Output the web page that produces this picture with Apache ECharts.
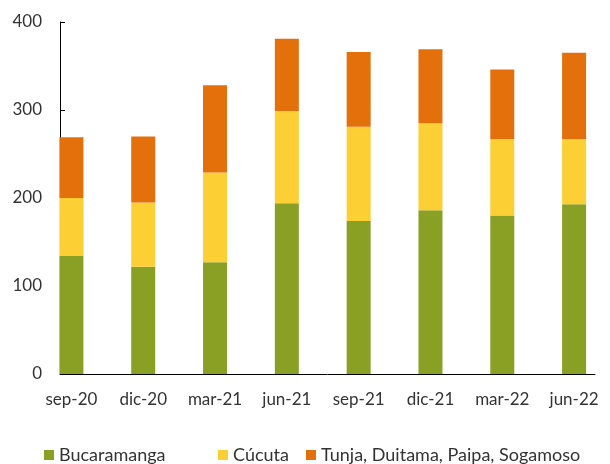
<!DOCTYPE html>
<html>
<head>
<meta charset="utf-8">
<script src="https://cdn.jsdelivr.net/npm/echarts@6/dist/echarts.min.js"></script>
<style>
  html, body { margin: 0; padding: 0; background: #fff; }
  #chart { width: 610px; height: 464px; }
</style>
</head>
<body>
<div id="chart"></div>
<script>
var categories = ["sep-20", "dic-20", "mar-21", "jun-21", "sep-21", "dic-21", "mar-22", "jun-22"];
var bucaramanga = [134, 122, 127, 194, 174, 186, 180, 193];
var cucuta = [66, 73, 102, 105, 107, 99, 87, 74];
var tunja = [69, 75, 99, 82, 85, 84, 79, 98];
var yTicks = [0, 100, 200, 300, 400];

var names = ["Bucaramanga", "Cúcuta", "Tunja, Duitama, Paipa, Sogamoso"];
var colors = ["#89a025", "#fccf35", "#e4700c"];
var font = "Lato";
var textColor = "#333";

function legendAt(name, left) {
  return {
    data: [name],
    left: left,
    top: 446,
    padding: 0,
    itemWidth: 10,
    itemHeight: 10,
    icon: "rect",
    textStyle: { fontFamily: font, fontSize: 18, color: textColor }
  };
}

function barSeries(i, values) {
  return {
    name: names[i],
    type: "bar",
    stack: "total",
    xAxisIndex: 0,
    yAxisIndex: 0,
    barWidth: 24,
    itemStyle: { color: colors[i] },
    data: values
  };
}

var option = {
  animation: false,
  backgroundColor: "#fff",
  color: colors,
  legend: [
    legendAt(names[0], 44),
    legendAt(names[1], 218),
    legendAt(names[2], 306)
  ],
  grid: [
    // bars: each band 73px wide, bar sits at its left end next to the tick
    { left: 35.5, width: 584, top: 22, bottom: 90 },
    // visible axes
    { left: 60, right: 15, top: 22, bottom: 90 }
  ],
  xAxis: [
    {
      type: "category",
      gridIndex: 0,
      data: categories,
      axisLine: { show: false },
      axisTick: { show: false },
      axisLabel: { fontFamily: font, fontSize: 17, color: textColor, margin: 17 }
    },
    {
      type: "value",
      gridIndex: 1,
      min: 0,
      max: 535 / 73,
      interval: 1,
      splitLine: { show: false },
      axisLabel: { show: false },
      axisLine: { lineStyle: { color: "#000", width: 1 } },
      axisTick: {
        inside: true,
        length: 5,
        lineStyle: { color: "#000" },
        customValues: [0, 1, 2, 3, 4, 5, 6, 7]
      }
    }
  ],
  yAxis: [
    {
      type: "value",
      gridIndex: 0,
      min: 0,
      max: 400,
      show: false
    },
    {
      type: "value",
      gridIndex: 1,
      min: 0,
      max: 400,
      interval: 100,
      splitLine: { show: false },
      axisLine: { show: true, lineStyle: { color: "#000", width: 1 } },
      axisTick: { show: true, inside: true, length: 5, lineStyle: { color: "#000" }, customValues: yTicks },
      axisLabel: { fontFamily: font, fontSize: 17, color: textColor, margin: 18, customValues: yTicks }
    }
  ],
  series: [
    barSeries(0, bucaramanga),
    barSeries(1, cucuta),
    barSeries(2, tunja)
  ]
};

var myChart = echarts.init(document.getElementById("chart"));
myChart.setOption(option);
</script>
</body>
</html>
